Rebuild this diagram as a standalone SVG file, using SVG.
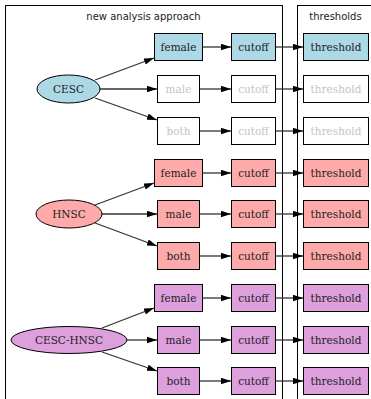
<svg xmlns="http://www.w3.org/2000/svg" width="371" height="399" viewBox="0 0 371 399">
<style>
.cl{fill:none;stroke:#000;stroke-width:1}
.ct{font-family:"DejaVu Sans",sans-serif;font-size:10px;fill:#222;text-anchor:middle}
.nt{font-family:"DejaVu Serif",serif;font-size:10.5px;fill:#222;text-anchor:middle}
.g{fill:#c4c4c4}
.n{stroke:#000;stroke-width:1}
.w{fill:#fff}
.b{fill:#add8e6}
.r{fill:#ffaaaa}
.p{fill:#dda0dd}
.e{fill:none;stroke:#333;stroke-width:1.3;marker-end:url(#ah)}
</style>
<defs>
<marker id="ah" markerUnits="userSpaceOnUse" markerWidth="11" markerHeight="8" refX="10" refY="3.25" orient="auto">
<path d="M0,0 L10,3.25 L0,6.5 z" fill="#000"/>
</marker>
</defs>
<rect width="371" height="399" fill="#fff"/>
<g id="cluster-approach">
<rect class="cl" x="5.5" y="5.5" width="277" height="420"/>
<text class="ct" x="143.5" y="19.5">new analysis approach</text>
</g>
<g id="cluster-thresholds">
<rect class="cl" x="297.5" y="5.5" width="100" height="420"/>
<text class="ct" x="335.5" y="19.5">thresholds</text>
</g>
<g id="connectors">
<path class="e" d="M95,80 L154,58"/>
<path class="e" d="M100,89 L157,89"/>
<path class="e" d="M95,98 L157,120"/>
<path class="e" d="M203,47 L231,47"/>
<path class="e" d="M200,89 L231,89"/>
<path class="e" d="M200,131 L231,131"/>
<path class="e" d="M276,47 L303,47"/>
<path class="e" d="M276,89 L303,89"/>
<path class="e" d="M276,131 L303,131"/>
<path class="e" d="M95,205 L154,183"/>
<path class="e" d="M102,214 L157,214"/>
<path class="e" d="M95,223 L157,246"/>
<path class="e" d="M203,173 L231,173"/>
<path class="e" d="M200,214 L231,214"/>
<path class="e" d="M200,256 L231,256"/>
<path class="e" d="M276,173 L303,173"/>
<path class="e" d="M276,214 L303,214"/>
<path class="e" d="M276,256 L303,256"/>
<path class="e" d="M102,328 L154,308"/>
<path class="e" d="M127,340 L157,340"/>
<path class="e" d="M102,352 L157,371"/>
<path class="e" d="M203,298 L231,298"/>
<path class="e" d="M200,340 L231,340"/>
<path class="e" d="M200,381 L231,381"/>
<path class="e" d="M276,298 L303,298"/>
<path class="e" d="M276,340 L303,340"/>
<path class="e" d="M276,381 L303,381"/>
</g>
<g id="CESC"><ellipse class="n b" cx="68.5" cy="89" rx="31.5" ry="14"/><text class="nt" x="68.5" y="93">CESC</text></g>
<g id="CESC-female"><rect class="n b" x="154.5" y="33.5" width="48" height="27"/><text class="nt" x="178.5" y="51">female</text></g>
<g id="CESC-male"><rect class="n w" x="157.5" y="75.5" width="42" height="27"/><text class="nt g" x="178.5" y="93">male</text></g>
<g id="CESC-both"><rect class="n w" x="157.5" y="117.5" width="42" height="27"/><text class="nt g" x="178.5" y="135">both</text></g>
<g id="CESC-female-cutoff"><rect class="n b" x="231.5" y="33.5" width="44" height="27"/><text class="nt" x="253.5" y="51">cutoff</text></g>
<g id="CESC-male-cutoff"><rect class="n w" x="231.5" y="75.5" width="44" height="27"/><text class="nt g" x="253.5" y="93">cutoff</text></g>
<g id="CESC-both-cutoff"><rect class="n w" x="231.5" y="117.5" width="44" height="27"/><text class="nt g" x="253.5" y="135">cutoff</text></g>
<g id="CESC-female-threshold"><rect class="n b" x="303.5" y="33.5" width="65" height="27"/><text class="nt" x="336" y="51">threshold</text></g>
<g id="CESC-male-threshold"><rect class="n w" x="303.5" y="75.5" width="65" height="27"/><text class="nt g" x="336" y="93">threshold</text></g>
<g id="CESC-both-threshold"><rect class="n w" x="303.5" y="117.5" width="65" height="27"/><text class="nt g" x="336" y="135">threshold</text></g>

<g id="HNSC"><ellipse class="n r" cx="69" cy="214" rx="33" ry="14"/><text class="nt" x="69" y="218">HNSC</text></g>
<g id="HNSC-female"><rect class="n r" x="154.5" y="159.5" width="48" height="27"/><text class="nt" x="178.5" y="177">female</text></g>
<g id="HNSC-male"><rect class="n r" x="157.5" y="200.5" width="42" height="27"/><text class="nt" x="178.5" y="218">male</text></g>
<g id="HNSC-both"><rect class="n r" x="157.5" y="242.5" width="42" height="27"/><text class="nt" x="178.5" y="260">both</text></g>
<g id="HNSC-female-cutoff"><rect class="n r" x="231.5" y="159.5" width="44" height="27"/><text class="nt" x="253.5" y="177">cutoff</text></g>
<g id="HNSC-male-cutoff"><rect class="n r" x="231.5" y="200.5" width="44" height="27"/><text class="nt" x="253.5" y="218">cutoff</text></g>
<g id="HNSC-both-cutoff"><rect class="n r" x="231.5" y="242.5" width="44" height="27"/><text class="nt" x="253.5" y="260">cutoff</text></g>
<g id="HNSC-female-threshold"><rect class="n r" x="303.5" y="159.5" width="65" height="27"/><text class="nt" x="336" y="177">threshold</text></g>
<g id="HNSC-male-threshold"><rect class="n r" x="303.5" y="200.5" width="65" height="27"/><text class="nt" x="336" y="218">threshold</text></g>
<g id="HNSC-both-threshold"><rect class="n r" x="303.5" y="242.5" width="65" height="27"/><text class="nt" x="336" y="260">threshold</text></g>

<g id="CESC-HNSC"><ellipse class="n p" cx="69" cy="340" rx="58" ry="13.5"/><text class="nt" x="69" y="344">CESC-HNSC</text></g>
<g id="CESC-HNSC-female"><rect class="n p" x="154.5" y="284.5" width="48" height="27"/><text class="nt" x="178.5" y="302">female</text></g>
<g id="CESC-HNSC-male"><rect class="n p" x="157.5" y="326.5" width="42" height="27"/><text class="nt" x="178.5" y="344">male</text></g>
<g id="CESC-HNSC-both"><rect class="n p" x="157.5" y="367.5" width="42" height="27"/><text class="nt" x="178.5" y="385">both</text></g>
<g id="CESC-HNSC-female-cutoff"><rect class="n p" x="231.5" y="284.5" width="44" height="27"/><text class="nt" x="253.5" y="302">cutoff</text></g>
<g id="CESC-HNSC-male-cutoff"><rect class="n p" x="231.5" y="326.5" width="44" height="27"/><text class="nt" x="253.5" y="344">cutoff</text></g>
<g id="CESC-HNSC-both-cutoff"><rect class="n p" x="231.5" y="367.5" width="44" height="27"/><text class="nt" x="253.5" y="385">cutoff</text></g>
<g id="CESC-HNSC-female-threshold"><rect class="n p" x="303.5" y="284.5" width="65" height="27"/><text class="nt" x="336" y="302">threshold</text></g>
<g id="CESC-HNSC-male-threshold"><rect class="n p" x="303.5" y="326.5" width="65" height="27"/><text class="nt" x="336" y="344">threshold</text></g>
<g id="CESC-HNSC-both-threshold"><rect class="n p" x="303.5" y="367.5" width="65" height="27"/><text class="nt" x="336" y="385">threshold</text></g>
</svg>
